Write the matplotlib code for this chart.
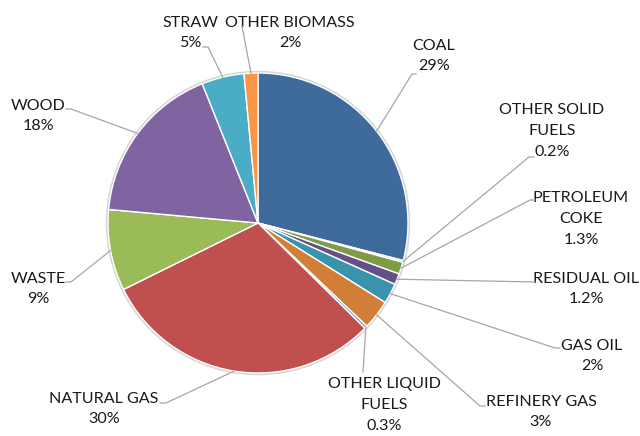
import matplotlib
matplotlib.use("Agg")
import matplotlib.pyplot as plt
import numpy as np
from matplotlib.patches import Circle

categories = ["COAL", "OTHER SOLID\nFUELS", "PETROLEUM\nCOKE", "RESIDUAL OIL", "GAS OIL",
              "REFINERY GAS", "OTHER LIQUID\nFUELS", "NATURAL GAS", "WASTE", "WOOD",
              "STRAW", "OTHER BIOMASS"]
values = [29.2, 0.2, 1.3, 1.2, 2.2, 3.2, 0.3, 30.5, 8.8, 17.6, 4.6, 1.5]
pct_labels = ["29%", "0.2%", "1.3%", "1.2%", "2%", "3%", "0.3%", "30%", "9%", "18%", "5%", "2%"]
colors = ["#3E6A9C", "#E8B4B3", "#7F9C45", "#654F88", "#3A93AC", "#D27E36",
          "#6E9AD3", "#C0504D", "#9BBB59", "#8064A2", "#4BACC6", "#F79646"]

# label text centers (pixel coords, y from top) and leader-line start points
label_pos = [(434, 56), (552, 131), (581, 219), (586, 289), (592, 356),
             (541, 412), (384, 405), (104, 409), (38, 289), (38, 116),
             (190, 33), (290, 33)]
leader_start = [(416, 74), (534, 157), (535, 200), (535, 282), (560, 348),
                (485, 406), (363, 372), (160, 403), (66, 282), (66, 109),
                (203, 47), (242, 26)]
elbow_dx = [-4, -5, -5, 0, -5, -5, 0, 6, 5, 5, 5, 0]

W, H = 640, 436
fig = plt.figure(figsize=(W / 100, H / 100), dpi=100)
ax = fig.add_axes([0, 0, 1, 1])

cx, cy, R = 258, H - 223, 150
ax.add_patch(Circle((cx, cy), R + 1.2, facecolor="none", edgecolor="#d6d6d6", lw=1.5, zorder=0))
wedges, _ = ax.pie(values, colors=colors, startangle=90, counterclock=False,
                   center=(cx, cy), radius=R, frame=True,
                   wedgeprops=dict(edgecolor="white", linewidth=1.0))
ax.set_xlim(0, W)
ax.set_ylim(0, H)
ax.set_aspect("equal")
ax.axis("off")

font = dict(family="Lato", fontsize=11.6, color="#1a1a1a")
for w, cat, pct, (lx, ly), (sx, sy), edx in zip(wedges, categories, pct_labels,
                                                label_pos, leader_start, elbow_dx):
    ax.text(lx, H - ly, cat + "\n" + pct, ha="center", va="center", linespacing=1.6, **font)
    mid = np.deg2rad((w.theta1 + w.theta2) / 2)
    ex, ey = cx + R * np.cos(mid), cy + R * np.sin(mid)
    ax.plot([sx, sx + edx, ex], [H - sy, H - sy, ey], color="#a6a6a6", lw=0.9, zorder=3)

fig.savefig("out.png", dpi=100, facecolor="white")
